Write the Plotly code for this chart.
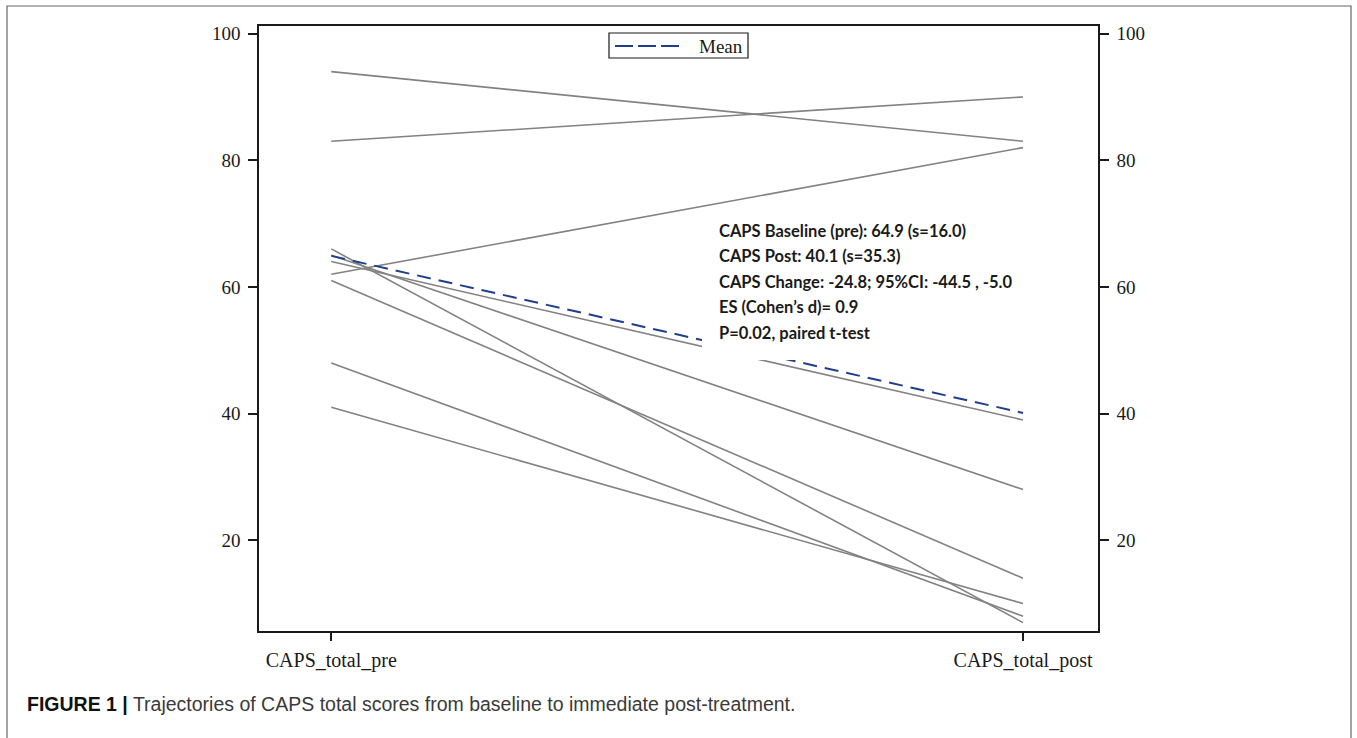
import plotly.graph_objects as go

# ---- data ----
categories = ["CAPS_total_pre", "CAPS_total_post"]
pre_scores = [94, 83, 62, 64, 65, 66, 61, 48, 41]
post_scores = [83, 90, 82, 39, 28, 7, 14, 8, 10]
mean_pre = 64.9
mean_post = 40.1
y_ticks = [20, 40, 60, 80, 100]
legend_label = "Mean"
stats_lines = [
    "CAPS Baseline (pre): 64.9 (s=16.0)",
    "CAPS Post: 40.1 (s=35.3)",
    "CAPS Change: -24.8; 95%CI: -44.5 , -5.0",
    "ES (Cohen\u2019s d)= 0.9",
    "P=0.02, paired t-test",
]
caption_bold = "FIGURE 1 |"
caption_text = "Trajectories of CAPS total scores from baseline to immediate post-treatment."

# ---- layout geometry (pixels) ----
W, H = 1357, 738
L, R, T, B = 259, 1098, 26, 631   # plot box edges in px
def px_x(p):
    return (p - L) / (R - L)
def px_y(p):
    return (B - p) / (B - T)

SERIF = "Liberation Serif"
INK = "#1a1a1a"
NAVY = "#1f3f8c"
fig = go.Figure()

for a, b in zip(pre_scores, post_scores):
    fig.add_trace(go.Scatter(
        x=categories, y=[a, b], mode="lines",
        line=dict(color="#828282", width=1.6),
        showlegend=False, hoverinfo="skip"))

fig.add_trace(go.Scatter(
    x=categories, y=[mean_pre, mean_post], mode="lines", name=legend_label,
    line=dict(color=NAVY, width=2, dash="14px,8px"),
    showlegend=False))

# invisible companion trace for the right-hand axis
fig.add_trace(go.Scatter(
    x=categories, y=[mean_pre, mean_post], mode="lines", yaxis="y2",
    line=dict(width=0), opacity=0, showlegend=False, hoverinfo="skip"))

yr = [5.67, 101.2]
axis_common = dict(showgrid=False, zeroline=False, showline=True,
                   linecolor=INK, linewidth=1.6,
                   ticks="outside", tickcolor=INK, tickwidth=1.6,
                   tickfont=dict(family=SERIF, size=19, color=INK))

fig.update_layout(
    width=W, height=H,
    margin=dict(l=L, r=W - R, t=T, b=H - B),
    paper_bgcolor="white", plot_bgcolor="white",
    xaxis=dict(type="category", categoryorder="array", categoryarray=categories,
               range=[-0.1045, 1.1084], mirror=True, ticklen=8,
               ticklabelstandoff=2, **axis_common),
    yaxis=dict(range=yr, tickvals=y_ticks, mirror=True, ticklen=9,
               ticklabelstandoff=4, **axis_common),
    yaxis2=dict(range=yr, tickvals=y_ticks, overlaying="y", side="right",
                anchor="x", ticklen=9, ticklabelstandoff=4, **axis_common),
    showlegend=False,
)
fig.update_xaxes(tickfont=dict(family=SERIF, size=20, color=INK))

# legend box (drawn as layout decoration)
fig.add_shape(type="rect", xref="paper", yref="paper",
              x0=px_x(609), x1=px_x(748), y0=px_y(58), y1=px_y(33),
              fillcolor="white", line=dict(color=INK, width=1.2), layer="above")
fig.add_shape(type="line", xref="paper", yref="paper",
              x0=px_x(615), x1=px_x(681), y0=px_y(46), y1=px_y(46),
              line=dict(color=NAVY, width=2, dash="18px,5px"), layer="above")
fig.add_annotation(text=legend_label, xref="paper", yref="paper",
                   x=px_x(697), y=px_y(46), xanchor="left", yanchor="middle",
                   showarrow=False, font=dict(family=SERIF, size=19, color=INK))

# white inset box behind the statistics text
fig.add_shape(type="rect", xref="paper", yref="paper",
              x0=px_x(702), x1=px_x(1030), y0=px_y(360), y1=px_y(214),
              fillcolor="white", line=dict(width=0), layer="above")

line_y = [231, 256.4, 281.8, 307.2, 332.6]
for txt, yy in zip(stats_lines, line_y):
    fig.add_annotation(text="<b>" + txt + "</b>", xref="paper", yref="paper",
                       x=px_x(717), y=px_y(yy), xanchor="left", yanchor="middle",
                       showarrow=False,
                       font=dict(family="Lato", size=16.5, color=INK))

# caption
fig.add_annotation(
    text="<b><span style='color:#111111'>" + caption_bold + "</span></b> " + caption_text,
    xref="paper", yref="paper", x=px_x(25), y=px_y(704),
    xanchor="left", yanchor="middle", showarrow=False,
    font=dict(family="Liberation Sans", size=19.5, color="#3a3a3a"))

# outer figure frame
fig.add_shape(type="rect", xref="paper", yref="paper",
              x0=px_x(7), x1=px_x(1351), y0=px_y(760), y1=px_y(6),
              line=dict(color="#666666", width=1.2), fillcolor="rgba(0,0,0,0)",
              layer="above")

fig.write_html("out.html",
               config={"displayModeBar": False},
               post_script="document.body.style.margin='0px';"
                           "document.body.style.overflow='hidden';")
